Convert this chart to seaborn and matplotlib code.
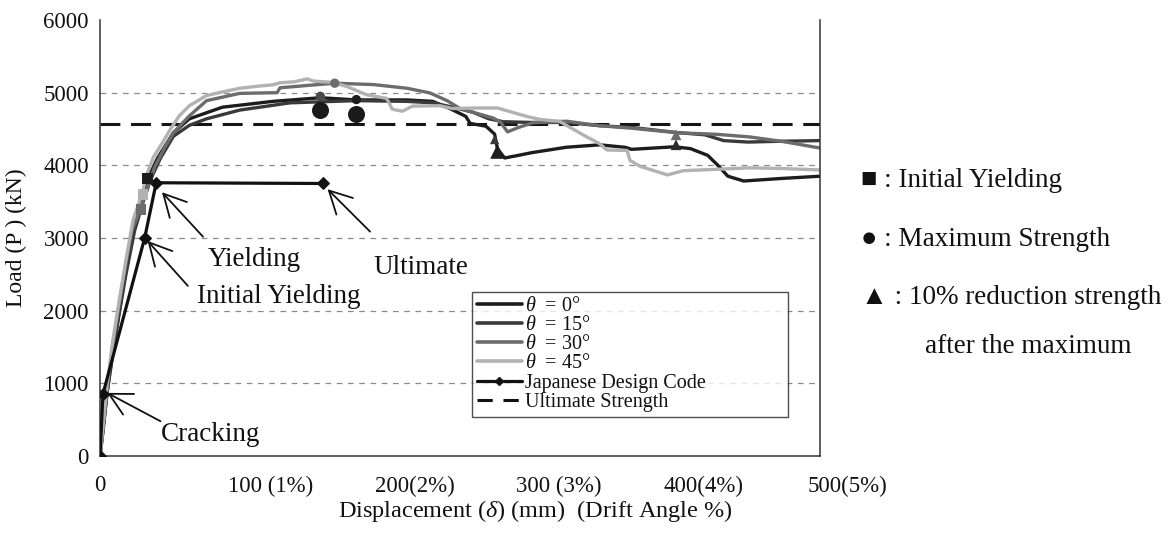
import matplotlib
matplotlib.use("Agg")
import matplotlib.pyplot as plt
import matplotlib.transforms as mtransforms
from matplotlib.lines import Line2D
import pandas as pd
import seaborn as sns

# ---- measured load-displacement curves (displacement mm, load kN) ----
DISP_T0 = [0, 2, 5, 9, 13, 18, 24, 29, 33, 40, 51, 62, 85, 120, 153, 178, 213, 231,
           243, 254, 257, 268, 274, 276, 281, 289, 300, 324, 347, 365, 369, 399, 410,
           422, 429, 436, 447, 473, 500]
LOAD_T0 = [0, 350, 900, 1450, 1950, 2550, 3150, 3550, 3810, 4100, 4450, 4640, 4800,
           4880, 4930, 4900, 4900, 4880, 4781, 4673, 4577, 4538, 4430, 4225, 4101, 4131,
           4175, 4249, 4282, 4247, 4220, 4255, 4230, 4137, 4001, 3850, 3784, 3819, 3850]

DISP_T15 = [0, 2, 5, 9, 13, 18, 24, 30, 35, 42, 51, 62, 74, 97, 132, 178, 213, 231, 245,
            259, 270, 280, 300, 324, 347, 370, 401, 420, 433, 450, 470, 500]
LOAD_T15 = [0, 330, 880, 1420, 1920, 2500, 3100, 3500, 3800, 4100, 4400, 4550, 4640,
            4760, 4860, 4890, 4880, 4860, 4800, 4730, 4640, 4600, 4590, 4590, 4545, 4520,
            4450, 4420, 4340, 4320, 4330, 4340]

DISP_T30 = [0, 2, 5, 9, 13, 18, 22, 28, 33, 38, 45, 51, 62, 74, 97, 123, 125, 144, 163,
            190, 213, 229, 241, 250, 259, 273, 278, 283, 290, 301, 324, 347, 370, 401,
            428, 451, 474, 500]
LOAD_T30 = [0, 380, 950, 1550, 2050, 2650, 3100, 3390, 3700, 3980, 4250, 4450, 4680,
            4890, 4990, 5000, 5067, 5099, 5130, 5111, 5061, 4997, 4890, 4782, 4730, 4651,
            4597, 4460, 4517, 4588, 4607, 4545, 4509, 4448, 4427, 4391, 4328, 4238]

DISP_T45 = [0, 2, 5, 9, 13, 18, 23, 29, 33, 37, 43, 49, 55, 62, 74, 85, 97, 110, 120,
            125, 135, 144, 148, 155, 162, 172, 185, 199, 203, 210, 217, 236, 245, 259,
            276, 297, 306, 319, 326, 338, 347, 352, 366, 368, 375, 394, 405, 428, 451,
            474, 500]
LOAD_T45 = [0, 400, 1000, 1600, 2100, 2700, 3250, 3600, 3900, 4110, 4300, 4500, 4680,
            4820, 4960, 5010, 5060, 5090, 5108, 5136, 5150, 5190, 5160, 5150, 5140, 5080,
            4972, 4921, 4771, 4745, 4815, 4820, 4781, 4788, 4789, 4669, 4630, 4606, 4526,
            4391, 4297, 4210, 4205, 4068, 3987, 3868, 3926, 3945, 3965, 3956, 3936]

SERIES_NAMES = ["θ = 0°", "θ = 15°", "θ = 30°", "θ = 45°"]
SERIES_COLORS = ["#1c1c1c", "#3a3a3a", "#6c6c6c", "#b2b2b2"]

# ---- Japanese Design Code skeleton (cracking, initial yielding, yielding, ultimate) ----
CODE_DISP = [0, 2, 31, 39, 155]
CODE_LOAD = [0, 850, 3000, 3760, 3750]
ULTIMATE_STRENGTH = 4570

# ---- characteristic points ----
YIELD_DISP = [33, 30, 28.5]
YIELD_LOAD = [3820, 3600, 3390]
YIELD_COLORS = ["#1c1c1c", "#b2b2b2", "#6c6c6c"]

MAX_BIG_DISP = [153, 178]
MAX_BIG_LOAD = [4758, 4709]
MAX_SMALL_DISP = [163, 153, 178]
MAX_SMALL_LOAD = [5130, 4950, 4905]
MAX_SMALL_COLORS = ["#6c6c6c", "#4a4a4a", "#1c1c1c"]

DROP_DISP = [276, 274, 400, 400]
DROP_LOAD = [4190, 4355, 4420, 4283]
DROP_SIZES = [110, 45, 60, 60]
DROP_COLORS = ["#1c1c1c", "#3a3a3a", "#6c6c6c", "#2a2a2a"]

X_TICKS = [0, 100, 200, 300, 400, 500]
X_TICK_LABELS = ["0", "100 (1%)", "200(2%)", "300 (3%)", "400(4%)", "500(5%)"]
Y_TICKS = [0, 1000, 2000, 3000, 4000, 5000, 6000]

sns.set_style("white")
plt.rcParams["font.family"] = ["Liberation Serif", "DejaVu Sans"]
plt.rcParams["mathtext.fontset"] = "custom"
plt.rcParams["mathtext.rm"] = "Liberation Serif"
plt.rcParams["mathtext.it"] = "Liberation Serif:italic"

fig = plt.figure(figsize=(11.74, 5.33), dpi=100)
ax = fig.add_axes([0.0852, 0.1445, 0.6133, 0.818])

frames = []
for name, xs, ys in zip(SERIES_NAMES, [DISP_T0, DISP_T15, DISP_T30, DISP_T45],
                        [LOAD_T0, LOAD_T15, LOAD_T30, LOAD_T45]):
    frames.append(pd.DataFrame({"disp": xs, "load": ys, "series": name}))
curves = pd.concat(frames, ignore_index=True)

# dashed horizontal grid
for yv in Y_TICKS[1:-1]:
    ax.axhline(yv, color="#8a8a8a", lw=0.9, ls=(0, (4.5, 4.5)), zorder=0)

ax.axhline(ULTIMATE_STRENGTH, color="#151515", lw=2.2, dashes=(6.5, 3.5), zorder=1)

sns.lineplot(data=curves, x="disp", y="load", hue="series", hue_order=SERIES_NAMES,
             palette=dict(zip(SERIES_NAMES, SERIES_COLORS)), sort=False, estimator=None,
             lw=2.4, legend=False, ax=ax, zorder=2)

sns.lineplot(x=CODE_DISP, y=CODE_LOAD, sort=False, estimator=None, color="#111111",
             lw=2.3, marker="D", markersize=6, markeredgecolor="#111111", ax=ax, zorder=4)

ax.scatter(YIELD_DISP, YIELD_LOAD, marker="s", s=55, c=YIELD_COLORS, zorder=5, linewidths=0)
ax.scatter(MAX_BIG_DISP, MAX_BIG_LOAD, marker="o", s=150, c="#1a1a1a", zorder=5, linewidths=0)
ax.scatter(MAX_SMALL_DISP, MAX_SMALL_LOAD, marker="o", s=45, c=MAX_SMALL_COLORS, zorder=5,
           linewidths=0)
ax.scatter(DROP_DISP, DROP_LOAD, marker="^", s=DROP_SIZES, c=DROP_COLORS, zorder=5,
           linewidths=0)

ax.set_xlim(0, 500)
ax.set_ylim(0, 6000)
ax.set_xticks(X_TICKS)
ax.set_xticklabels(X_TICK_LABELS)
ax.set_yticks(Y_TICKS)
ax.tick_params(axis="both", direction="in", length=5, width=1, colors="#222222",
               labelsize=16.5)
ax.tick_params(axis="x", pad=14)
ax.tick_params(axis="y", pad=8)
for lbl in ax.get_xticklabels() + ax.get_yticklabels():
    lbl.set_color("#111111")
shift = mtransforms.ScaledTranslation(0.27, 0, fig.dpi_scale_trans)
for lbl in ax.get_xticklabels()[1:]:
    lbl.set_transform(lbl.get_transform() + shift)

for side in ["left", "bottom", "right"]:
    ax.spines[side].set_color("#333333")
    ax.spines[side].set_linewidth(1.1)
ax.spines["top"].set_visible(False)

ax.set_xlabel(r"Displacement ($\delta$) (mm)  (Drift Angle %)", fontsize=17.5,
              color="#111111", labelpad=1, x=0.604)
ax.set_ylabel("Load (P ) (kN)", fontsize=17, color="#111111", labelpad=12)

# annotations for the design-code points
arrow = dict(arrowstyle="->, head_length=0.8, head_width=0.42", lw=1.3, color="#111111",
             shrinkA=0, shrinkB=0, mutation_scale=20)
notes = [
    ("Cracking", (5, 868), (42, 478), (77, 290)),
    ("Initial Yielding", (33, 2960), (61, 2341), (124, 2190)),
    ("Yielding", (43, 3630), (71.5, 3018), (107, 2710)),
    ("Ultimate", (158, 3672), (187.5, 3088), (223, 2590)),
]
for text, tip, tail, pos in notes:
    ax.annotate("", xy=tip, xytext=tail, arrowprops=arrow, zorder=6)
    ax.text(pos[0], pos[1], text, fontsize=19.5, ha="center", va="center", color="#111111")

handles = [Line2D([], [], color=c, lw=2.6) for c in SERIES_COLORS]
handles += [Line2D([], [], color="#111111", lw=2.3, marker="D", markersize=4.5),
            Line2D([], [], color="#111111", lw=2.2, dashes=(5, 3.5))]
labels = [r"$\theta$  = 0°", r"$\theta$  = 15°", r"$\theta$  = 30°", r"$\theta$  = 45°",
          "Japanese Design Code", "Ultimate Strength"]
leg = ax.legend(handles, labels, loc="upper left", bbox_to_anchor=(0.517, 0.083, 0.439, 0.293),
                mode="expand", fontsize=14.5, handlelength=2.2, handletextpad=0.15,
                labelspacing=0.0, borderpad=0.25, borderaxespad=0, frameon=True,
                fancybox=False, edgecolor="#222222")
leg.get_frame().set_linewidth(1.0)
for t in leg.get_texts():
    t.set_color("#111111")

# key for the event markers
sym_font = ["Liberation Serif", "DejaVu Sans"]
fig.text(0.733, 0.662, "■ : Initial Yielding", fontsize=19.5, family=sym_font,
         va="center", ha="left", color="#111111")
fig.text(0.733, 0.550, "● : Maximum Strength", fontsize=19.5, family=sym_font,
         va="center", ha="left", color="#111111")
fig.text(0.733, 0.441, "▲ : 10% reduction strength", fontsize=19.5, family=sym_font,
         va="center", ha="left", color="#111111")
fig.text(0.788, 0.349, "after the maximum", fontsize=19.5, family=sym_font,
         va="center", ha="left", color="#111111")

fig.savefig("out.png", dpi=100)
